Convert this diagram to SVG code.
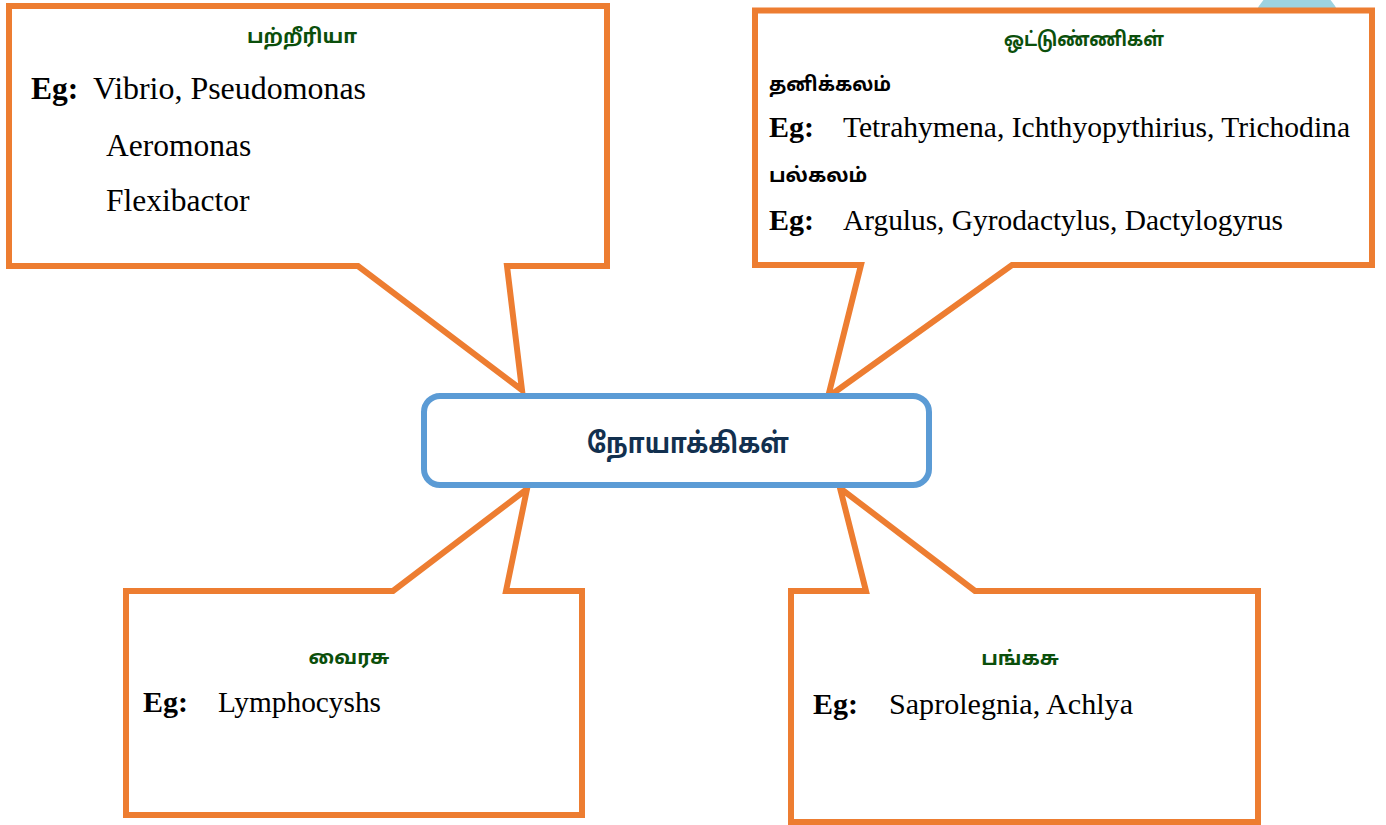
<svg xmlns="http://www.w3.org/2000/svg" width="1386" height="825" viewBox="0 0 1386 825">
<style>
.call{fill:#fff;stroke:#ED7D31;stroke-width:6;stroke-linejoin:miter;stroke-miterlimit:20}
.hub{fill:#fff;stroke:#5B9BD5;stroke-width:6}
.ta{font-family:"Noto Sans Tamil","Lohit Tamil","Noto Sans","DejaVu Sans",sans-serif;font-weight:bold}
.tt{fill:#0B4F0B;font-size:20px}
.tb{fill:#000;font-size:20px}
.la{font-family:"Liberation Serif","Times New Roman",serif;fill:#000}
.eg{font-weight:bold}
</style>
<rect width="1386" height="825" fill="#fff"/>
<circle cx="1297" cy="30" r="45" fill="#9DD3E0"/>
<g id="connectors"></g>
<g id="bacteria">
<path class="call" d="M9,6 H607 V266 H507 L522,390 L358,266 H9 Z"/>
<text class="ta tt" x="302" y="43" text-anchor="middle">பற்றீரியா</text>
<text class="la eg" font-size="31.5" x="31" y="99">Eg:</text>
<text class="la" font-size="31.5" x="93" y="99" textLength="273" lengthAdjust="spacingAndGlyphs">Vibrio, Pseudomonas</text>
<text class="la" font-size="31.5" x="106" y="156">Aeromonas</text>
<text class="la" font-size="31.5" x="106" y="211">Flexibactor</text>
</g>
<g id="parasites">
<path class="call" d="M755,10.5 H1372 V265 H1012 L828,397 L861,265 H755 Z"/>
<text class="ta tt" x="1084" y="46" text-anchor="middle" textLength="160" lengthAdjust="spacingAndGlyphs">ஒட்டுண்ணிகள்</text>
<text class="ta tb" x="769" y="91" textLength="122" lengthAdjust="spacingAndGlyphs">தனிக்கலம்</text>
<text class="la eg" font-size="30" x="769" y="137">Eg:</text>
<text class="la" font-size="30" x="843" y="137" textLength="507" lengthAdjust="spacingAndGlyphs">Tetrahymena, Ichthyopythirius, Trichodina</text>
<text class="ta tb" x="769" y="182">பல்கலம்</text>
<text class="la eg" font-size="30" x="769" y="230">Eg:</text>
<text class="la" font-size="30" x="843" y="230" textLength="440" lengthAdjust="spacingAndGlyphs">Argulus, Gyrodactylus, Dactylogyrus</text>
</g>
<g id="virus">
<path class="call" d="M126,591 H393 L527,489 L506,591 H582 V815 H126 Z"/>
<text class="ta tt" x="349" y="664" text-anchor="middle">வைரசு</text>
<text class="la eg" font-size="30" x="143" y="712">Eg:</text>
<text class="la" font-size="30" x="218" y="712" textLength="163" lengthAdjust="spacingAndGlyphs">Lymphocyshs</text>
</g>
<g id="fungi">
<path class="call" d="M791,591 H866 L840,488 L975,591 H1258 V822 H791 Z"/>
<text class="ta tt" x="1020" y="665" text-anchor="middle">பங்கசு</text>
<text class="la eg" font-size="30" x="813" y="714">Eg:</text>
<text class="la" font-size="30" x="889" y="714" textLength="244" lengthAdjust="spacingAndGlyphs">Saprolegnia, Achlya</text>
</g>
<g id="pathogens">
<rect class="hub" x="424" y="396" width="505" height="89" rx="16"/>
<text class="ta" x="688" y="453" text-anchor="middle" font-size="28" fill="#12304F" textLength="202" lengthAdjust="spacingAndGlyphs">நோயாக்கிகள்</text>
</g>
</svg>
